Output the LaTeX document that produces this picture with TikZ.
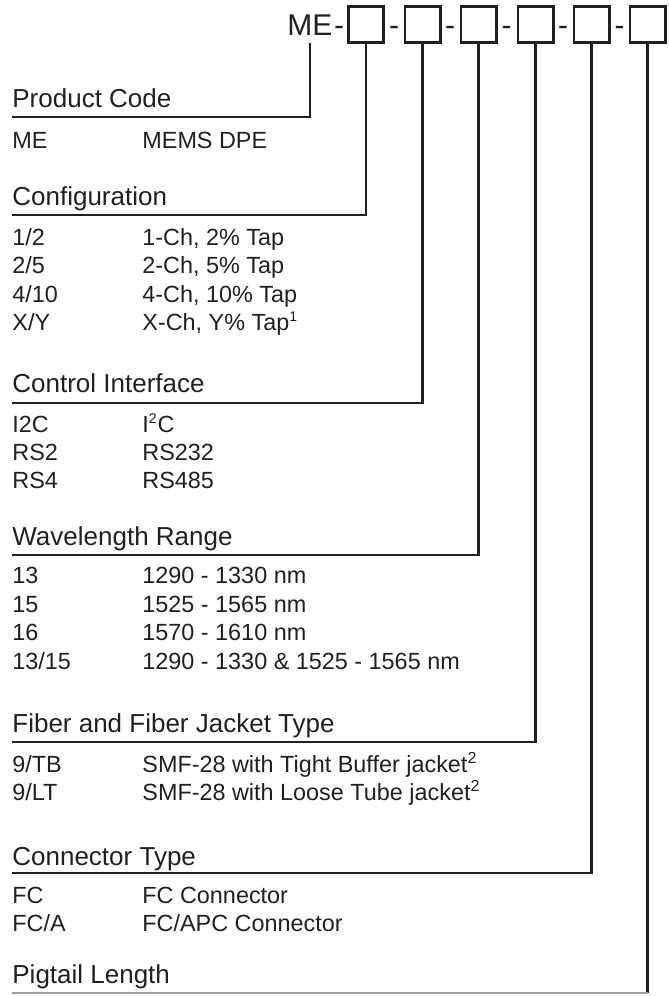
\documentclass[tikz,border=0pt]{standalone}
\usepackage{fontspec}
\setmainfont{Liberation Sans}
\usetikzlibrary{positioning}
\definecolor{codeink}{HTML}{231F20}

\begin{document}
\begin{tikzpicture}[
  x=0.5pt, y=-0.5pt,
  codebox/.style={draw=codeink, line width=1.3pt, minimum width=17.7pt, minimum height=18.2pt, inner sep=0pt},
  top/.style={anchor=base, inner sep=0pt, font=\fontsize{15}{18}\selectfont, text=codeink},
  head/.style={anchor=base west, inner sep=0pt, font=\fontsize{13}{15}\selectfont, text=codeink},
  entry/.style={anchor=base west, inner sep=0pt, font=\fontsize{11.7}{14}\selectfont, text=codeink},
  lead/.style={draw=codeink, line width=1.2pt}
]
\useasboundingbox (0,0) rectangle (669,996);

% part number boxes
\node[top, anchor=base west] (me) at (287,35) {ME};
\node[top] (d0) at (339,35) {-};
\foreach \i/\x in {1/366,2/422.5,3/478.5,4/535.5,5/591.5,6/647.5}
  \node[codebox] (b\i) at (\x,24.5) {};
\foreach \i/\x in {1/394,2/450,3/506.5,4/563,5/619.5}
  \node[top] (d\i) at (\x,35) {-};

% underline ends
\coordinate (u1) at (12,117);
\coordinate (u2) at (12,215);
\coordinate (u3) at (12,403);
\coordinate (u4) at (12,555);
\coordinate (u5) at (12,742);
\coordinate (u6) at (12,873);
\coordinate (u7) at (12,993);

% sections
\node[head] (hProd) at (12,107) {Product Code};
\node[entry] (pA) at (12,148) {ME};
\node[entry] (pB) at (142,148) {MEMS DPE};

\node[head] (hConf) at (12,205) {Configuration};
\node[entry] (cA1) at (12,245) {1/2};
\node[entry] (cB1) at (142,245) {1-Ch, 2\% Tap};
\node[entry] (cA2) at (12,273) {2/5};
\node[entry] (cB2) at (142,273) {2-Ch, 5\% Tap};
\node[entry] (cA3) at (12,302) {4/10};
\node[entry] (cB3) at (142,302) {4-Ch, 10\% Tap};
\node[entry] (cA4) at (12,330) {X/Y};
\node[entry] (cB4) at (142,330) {X-Ch, Y\% Tap\textsuperscript{\fontsize{7}{8}\selectfont 1}};

\node[head] (hCtrl) at (12,392) {Control Interface};
\node[entry] (iA1) at (12,432) {I2C};
\node[entry] (iB1) at (142,432) {I\textsuperscript{\fontsize{7}{8}\selectfont 2}C};
\node[entry] (iA2) at (12,460) {RS2};
\node[entry] (iB2) at (142,460) {RS232};
\node[entry] (iA3) at (12,488) {RS4};
\node[entry] (iB3) at (142,488) {RS485};

\node[head] (hWave) at (12,545) {Wavelength Range};
\node[entry] (wA1) at (12,583) {13};
\node[entry] (wB1) at (142,583) {1290 - 1330 nm};
\node[entry] (wA2) at (12,612) {15};
\node[entry] (wB2) at (142,612) {1525 - 1565 nm};
\node[entry] (wA3) at (12,640) {16};
\node[entry] (wB3) at (142,640) {1570 - 1610 nm};
\node[entry] (wA4) at (12,669) {13/15};
\node[entry] (wB4) at (142,669) {1290 - 1330 \& 1525 - 1565 nm};

\node[head] (hFib) at (12,732) {Fiber and Fiber Jacket Type};
\node[entry] (fA1) at (12,772) {9/TB};
\node[entry] (fB1) at (142,772) {SMF-28 with Tight Buffer jacket\textsuperscript{\fontsize{8}{9}\selectfont 2}};
\node[entry] (fA2) at (12,800) {9/LT};
\node[entry] (fB2) at (142,800) {SMF-28 with Loose Tube jacket\textsuperscript{\fontsize{8}{9}\selectfont 2}};

\node[head] (hConn) at (12,865) {Connector Type};
\node[entry] (kA1) at (12,903) {FC};
\node[entry] (kB1) at (142,903) {FC Connector};
\node[entry] (kA2) at (12,931) {FC/A};
\node[entry] (kB2) at (142,931) {FC/APC Connector};

\node[head] (hPig) at (12,983) {Pigtail Length};

% leaders
\draw[lead] ([yshift=-4pt]me.south) |- (u1);
\foreach \i/\j in {1/2,2/3,3/4,4/5,5/6}{\draw[lead] (b\i.south) |- (u\j);}
\draw[lead] (b6.south) -- (b6.south |- u7);
\draw[lead, draw=codeink!45, line width=0.8pt] (u7) -- (b6.south |- u7);
\end{tikzpicture}
\end{document}
